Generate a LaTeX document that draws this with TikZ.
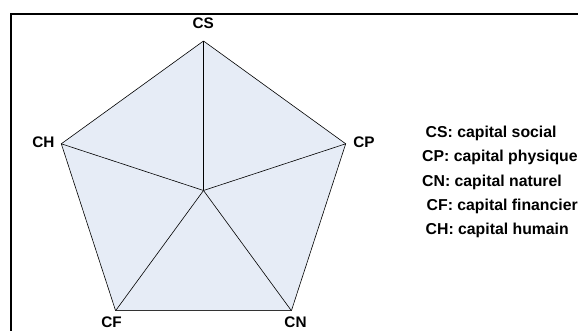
\documentclass[tikz,border=0pt]{standalone}
\usepackage{fontspec}
\setmainfont{Liberation Sans}
\definecolor{penta}{RGB}{230,236,246}
\begin{document}
\begin{tikzpicture}[x=1pt,y=-1pt,
  edge/.style={draw=black,line width=0.6pt},
  vlabel/.style={font=\fontsize{15.3}{18}\selectfont\bfseries,inner sep=0pt},
  legend/.style={font=\fontsize{15.8}{19}\selectfont\bfseries,inner sep=0pt,anchor=west}]
\useasboundingbox (0,0) rectangle (578,331);
% frame
\draw[line width=2pt] (11,345) -- (11,14) -- (600,14);
% vertices
\coordinate (CS) at (203.5,41);
\coordinate (CP) at (345.7,143.8);
\coordinate (CN) at (291.4,310.7);
\coordinate (CF) at (115.6,310.7);
\coordinate (CH) at (61.3,143.8);
\coordinate (O) at (203.5,190.5);
\fill[penta] (CS) -- (CP) -- (CN) -- (CF) -- (CH) -- cycle;
\draw[edge] (CS) -- (CP) -- (CN);
\draw[edge] (CF) -- (CH) -- (CS);
\draw[draw=black!80,line width=1pt] (CN) -- (CF);
\foreach \v in {CS,CP,CN,CF,CH} \draw[edge] (O) -- (\v);
% vertex labels
\node[vlabel] (lCS) at (203.3,23) {CS};
\node[vlabel] (lCH) at (43.5,142.5) {CH};
\node[vlabel] (lCP) at (364,142.5) {CP};
\node[vlabel] (lCF) at (111.5,322) {CF};
\node[vlabel] (lCN) at (295.5,322) {CN};
% legend
\node[legend] (g1) at (425.5,133) {CS: capital social};
\node[legend] (g2) at (422,157.5) {CP: capital physique};
\node[legend] (g3) at (422,182) {CN: capital naturel};
\node[legend] (g4) at (426.5,206.5) {CF: capital financier};
\node[legend] (g5) at (425.5,230.5) {CH: capital humain};
\end{tikzpicture}
\end{document}
